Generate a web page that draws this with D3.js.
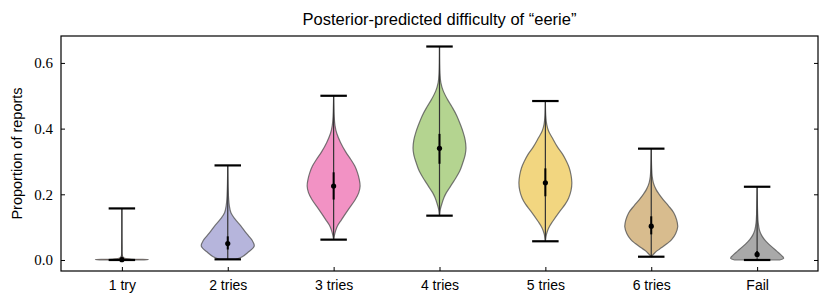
<!DOCTYPE html>
<html>
<head>
<meta charset="utf-8">
<script src="https://cdn.jsdelivr.net/npm/d3@7"></script>
<style>
  body { margin: 0; background: #fff; }
  svg text { fill: #000; }
  .lbl { font-family: "Liberation Sans", "DejaVu Sans", sans-serif; }
  .num { font-family: "Liberation Serif", "DejaVu Serif", serif; }
</style>
</head>
<body>
<svg width="830" height="305"></svg>
<script>
const svg = d3.select("svg"),
  width = +svg.attr("width"),
  height = +svg.attr("height");

// categories and summary values
const categories = ["1 try", "2 tries", "3 tries", "4 tries", "5 tries", "6 tries", "Fail"];
const mins  = [0.0,   0.002, 0.062, 0.135, 0.057, 0.010, 0.0];
const maxs  = [0.157, 0.288, 0.500, 0.650, 0.484, 0.339, 0.223];
const means = [0.001, 0.050, 0.225, 0.340, 0.235, 0.103, 0.017];
const intLo = [0.0,   0.032, 0.184, 0.293, 0.194, 0.078, 0.010];
const intHi = [0.003, 0.072, 0.267, 0.384, 0.279, 0.133, 0.027];
const colors = ["#c98a6c", "#b6b5dc", "#f292c4", "#b4d490", "#f2d680", "#d8bc8e", "#a9a9a9"];

// violin outlines: [value, relative half-width]
const profiles = [
  [[0, 0.7], [0.001, 1.0], [0.003, 0.35], [0.006, 0.08], [0.012, 0.02], [0.04, 0.005], [0.157, 0]],
  [[0.002, 0.3], [0.01, 0.55], [0.022, 0.75], [0.042, 1.0], [0.06, 0.92], [0.072, 0.8], [0.088, 0.64],
   [0.103, 0.5], [0.125, 0.27], [0.144, 0.12], [0.165, 0.06], [0.184, 0.035], [0.22, 0.015], [0.288, 0]],
  [[0.062, 0], [0.075, 0.03], [0.09, 0.08], [0.103, 0.14], [0.123, 0.3], [0.154, 0.56], [0.184, 0.82],
   [0.205, 0.95], [0.225, 1.0], [0.245, 0.97], [0.266, 0.9], [0.286, 0.8], [0.306, 0.65], [0.33, 0.45],
   [0.358, 0.26], [0.385, 0.12], [0.41, 0.05], [0.44, 0.02], [0.5, 0]],
  [[0.135, 0], [0.154, 0.03], [0.174, 0.1], [0.19, 0.17], [0.205, 0.26], [0.225, 0.42], [0.245, 0.58],
   [0.27, 0.76], [0.296, 0.88], [0.32, 0.97], [0.341, 1.0], [0.365, 0.97], [0.387, 0.9], [0.41, 0.8],
   [0.438, 0.66], [0.465, 0.48], [0.489, 0.3], [0.515, 0.14], [0.54, 0.05], [0.57, 0.015], [0.65, 0]],
  [[0.057, 0], [0.078, 0.04], [0.097, 0.12], [0.118, 0.28], [0.149, 0.55], [0.17, 0.75], [0.189, 0.88],
   [0.212, 0.97], [0.235, 1.0], [0.258, 0.97], [0.281, 0.9], [0.3, 0.8], [0.321, 0.66], [0.345, 0.45],
   [0.372, 0.26], [0.393, 0.12], [0.413, 0.05], [0.44, 0.015], [0.484, 0]],
  [[0.01, 0], [0.017, 0.08], [0.027, 0.2], [0.037, 0.38], [0.05, 0.6], [0.062, 0.77], [0.08, 0.92],
   [0.101, 1.0], [0.122, 0.96], [0.144, 0.85], [0.165, 0.65], [0.184, 0.45], [0.2, 0.3], [0.215, 0.18],
   [0.235, 0.08], [0.255, 0.035], [0.28, 0.015], [0.339, 0]],
  [[0.0, 0.85], [0.005, 1.0], [0.01, 0.97], [0.017, 0.88], [0.027, 0.74], [0.037, 0.6], [0.05, 0.42],
   [0.062, 0.28], [0.075, 0.17], [0.09, 0.09], [0.113, 0.04], [0.14, 0.02], [0.223, 0]]
];
const yTicks = [0.0, 0.2, 0.4, 0.6];

const margin = {top: 36, right: 12, bottom: 34, left: 61};
const x = d3.scaleLinear().domain([0.425, 7.575]).range([margin.left, width - margin.right]);
const y = d3.scaleLinear().domain([-0.0335, 0.682]).range([height - margin.bottom, margin.top]);
const halfW = x(1.25) - x(1);   // violin half width
const capW = x(1.125) - x(1);   // cap half width

const g = svg.append("g");

// violins
const area = d3.area()
  .curve(d3.curveCatmullRom.alpha(0.5));

categories.forEach((c, i) => {
  const cx = x(i + 1);
  area.y(d => y(d[0])).x0(d => cx - d[1] * halfW).x1(d => cx + d[1] * halfW);
  g.append("path")
    .attr("d", area(profiles[i]))
    .attr("fill", colors[i])
    .attr("stroke", "#555")
    .attr("stroke-opacity", 0.8)
    .attr("stroke-width", 1.2);
});

// whiskers
g.selectAll(".whisk")
  .data(categories)
  .enter().append("line")
  .attr("x1", (d, i) => x(i + 1)).attr("x2", (d, i) => x(i + 1))
  .attr("y1", (d, i) => y(mins[i])).attr("y2", (d, i) => y(maxs[i]))
  .attr("stroke", "#333").attr("stroke-width", 1.2);

[mins, maxs].forEach(arr => {
  g.selectAll(null)
    .data(categories)
    .enter().append("line")
    .attr("x1", (d, i) => x(i + 1) - capW).attr("x2", (d, i) => x(i + 1) + capW)
    .attr("y1", (d, i) => y(arr[i])).attr("y2", (d, i) => y(arr[i]))
    .attr("stroke", "#000").attr("stroke-width", 2.2);
});

// interval + mean
g.selectAll(".int")
  .data(categories)
  .enter().append("line")
  .attr("x1", (d, i) => x(i + 1)).attr("x2", (d, i) => x(i + 1))
  .attr("y1", (d, i) => y(intLo[i])).attr("y2", (d, i) => y(intHi[i]))
  .attr("stroke", "#000").attr("stroke-width", 2);

g.selectAll(".mean")
  .data(categories)
  .enter().append("circle")
  .attr("cx", (d, i) => x(i + 1))
  .attr("cy", (d, i) => y(means[i]))
  .attr("r", 2.6)
  .attr("fill", "#000");

// axes with inward ticks
const left = svg.append("g")
  .attr("transform", `translate(${margin.left},0)`)
  .call(d3.axisLeft(y).tickValues(yTicks).tickFormat(d3.format(".1f")).tickSizeInner(-4).tickSizeOuter(0).tickPadding(8));
const right = svg.append("g")
  .attr("transform", `translate(${width - margin.right},0)`)
  .call(d3.axisRight(y).tickValues(yTicks).tickFormat("").tickSizeInner(-4).tickSizeOuter(0));
const bottom = svg.append("g")
  .attr("transform", `translate(0,${height - margin.bottom})`)
  .call(d3.axisBottom(x).tickValues(d3.range(1, 8)).tickFormat(d => categories[d - 1]).tickSizeInner(-4).tickSizeOuter(0).tickPadding(9));

[left, right, bottom].forEach(a => {
  a.select(".domain").remove();
  a.selectAll(".tick line").attr("stroke", "#000").attr("stroke-width", 1);
  a.selectAll("text").attr("fill", "#000");
});
left.selectAll("text").attr("class", "num").style("font-size", "15px");
bottom.selectAll("text").attr("class", "lbl").style("font-size", "14px");

// frame
svg.append("rect")
  .attr("x", margin.left).attr("y", margin.top)
  .attr("width", width - margin.left - margin.right)
  .attr("height", height - margin.top - margin.bottom)
  .attr("fill", "none").attr("stroke", "#000").attr("stroke-width", 1.2);

// title and axis label
svg.append("text")
  .attr("class", "lbl")
  .attr("x", (margin.left + width - margin.right) / 2)
  .attr("y", 25)
  .attr("text-anchor", "middle")
  .style("font-size", "16.5px")
  .text("Posterior-predicted difficulty of \u201ceerie\u201d");

svg.append("text")
  .attr("class", "lbl")
  .attr("transform", `translate(22,${(margin.top + height - margin.bottom) / 2}) rotate(-90)`)
  .attr("text-anchor", "middle")
  .style("font-size", "14.5px")
  .text("Proportion of reports");
</script>
</body>
</html>
